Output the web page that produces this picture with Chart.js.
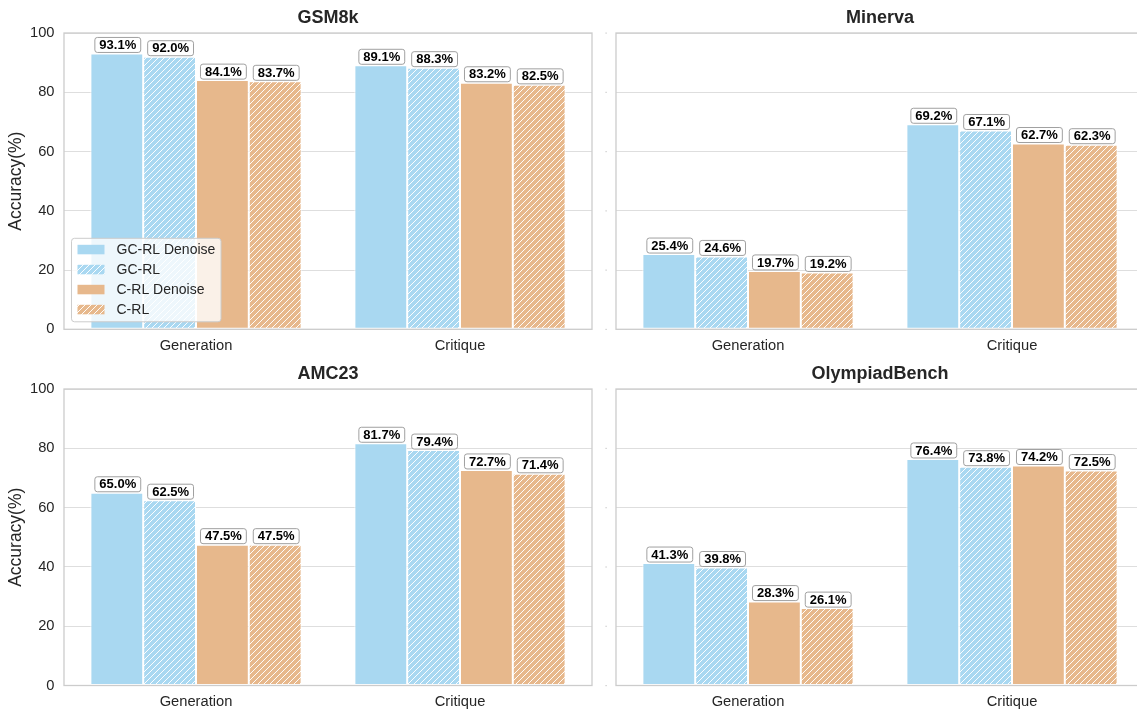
<!DOCTYPE html>
<html>
<head>
<meta charset="utf-8">
<script src="https://cdn.jsdelivr.net/npm/chart.js@4.4.1/dist/chart.umd.min.js"></script>
<style>
  html, body { margin: 0; padding: 0; background: #fff; overflow: hidden; width: 1137px; height: 713px; }
  canvas { position: absolute; }
</style>
</head>
<body>
<canvas id="c0" width="600" height="360" style="left:0;top:0"></canvas>
<canvas id="c1" width="545" height="360" style="left:600px;top:0"></canvas>
<canvas id="c2" width="600" height="353" style="left:0;top:360px"></canvas>
<canvas id="c3" width="545" height="353" style="left:600px;top:360px"></canvas>
<script>
// ---- data ----
const categories = ['Generation', 'Critique'];
const seriesNames = ['GC-RL Denoise', 'GC-RL', 'C-RL Denoise', 'C-RL'];
const panelTitles = ['GSM8k', 'Minerva', 'AMC23', 'OlympiadBench'];
const yTicks = [0, 20, 40, 60, 80, 100];

const gsm8kGcRlDenoise = [93.1, 89.1];
const gsm8kGcRl        = [92.0, 88.3];
const gsm8kCRlDenoise  = [84.1, 83.2];
const gsm8kCRl         = [83.7, 82.5];

const minervaGcRlDenoise = [25.4, 69.2];
const minervaGcRl        = [24.6, 67.1];
const minervaCRlDenoise  = [19.7, 62.7];
const minervaCRl         = [19.2, 62.3];

const amc23GcRlDenoise = [65.0, 81.7];
const amc23GcRl        = [62.5, 79.4];
const amc23CRlDenoise  = [47.5, 72.7];
const amc23CRl         = [47.5, 71.4];

const olympiadGcRlDenoise = [41.3, 76.4];
const olympiadGcRl        = [39.8, 73.8];
const olympiadCRlDenoise  = [28.3, 74.2];
const olympiadCRl         = [26.1, 72.5];

// ---- styling ----
const FONT = '"Liberation Sans", Arial, Helvetica, sans-serif';
const TEXT = '#262626';
const BLUE = '#A9D8F1';
const ORANGE = '#E7B88C';

function hatchPattern(color) {
  const s = 6;
  const c = document.createElement('canvas');
  c.width = s; c.height = s;
  const g = c.getContext('2d');
  g.fillStyle = color;
  g.fillRect(0, 0, s, s);
  g.strokeStyle = 'rgba(255,255,255,0.95)';
  g.lineWidth = 1.0;
  g.beginPath();
  g.moveTo(0, s); g.lineTo(s, 0);
  g.moveTo(-1, 1); g.lineTo(1, -1);
  g.moveTo(s - 1, s + 1); g.lineTo(s + 1, s - 1);
  g.stroke();
  return g.createPattern(c, 'repeat');
}

const fills = [BLUE, hatchPattern(BLUE), ORANGE, hatchPattern(ORANGE)];

function roundRect(ctx, x, y, w, h, r) {
  ctx.beginPath();
  ctx.moveTo(x + r, y);
  ctx.lineTo(x + w - r, y);
  ctx.arcTo(x + w, y, x + w, y + r, r);
  ctx.lineTo(x + w, y + h - r);
  ctx.arcTo(x + w, y + h, x + w - r, y + h, r);
  ctx.lineTo(x + r, y + h);
  ctx.arcTo(x, y + h, x, y + h - r, r);
  ctx.lineTo(x, y + r);
  ctx.arcTo(x, y, x + r, y, r);
  ctx.closePath();
}

// frame, title, y-axis title, tiny tick marks
const panelDecor = {
  id: 'panelDecor',
  beforeDraw(chart) {
    const ctx = chart.ctx;
    ctx.save();
    ctx.fillStyle = '#fff';
    ctx.fillRect(0, 0, chart.width, chart.height);
    ctx.restore();
  },
  afterDatasetsDraw(chart, args, opts) {
    const ctx = chart.ctx;
    const a = chart.chartArea;
    ctx.save();
    // frame
    ctx.strokeStyle = '#cccccc';
    ctx.lineWidth = 1.3;
    ctx.strokeRect(a.left, a.top, a.right - a.left, a.bottom - a.top);
    // title
    ctx.fillStyle = TEXT;
    ctx.font = 'bold 18px ' + FONT;
    ctx.textAlign = 'center';
    ctx.textBaseline = 'middle';
    ctx.fillText(opts.title, (a.left + a.right) / 2, a.top - 15);
    // y-axis title
    if (opts.yTitle) {
      ctx.save();
      ctx.translate(16.5, (a.top + a.bottom) / 2);
      ctx.rotate(-Math.PI / 2);
      ctx.font = '17.5px ' + FONT;
      ctx.fillText(opts.yTitle, 0, 0);
      ctx.restore();
    }
    // small tick marks where the labels are hidden
    if (opts.tickDots) {
      const ys = chart.scales.y;
      ctx.fillStyle = '#c8c8c8';
      yTicks.forEach(v => {
        const y = ys.getPixelForValue(v);
        ctx.fillRect(a.left - 10.5, y - 0.5, 1.2, 1.2);
      });
    }
    ctx.restore();
  }
};

// boxed value labels above bars
const valueBoxes = {
  id: 'valueBoxes',
  afterDatasetsDraw(chart) {
    const ctx = chart.ctx;
    ctx.save();
    ctx.font = 'bold 13px ' + FONT;
    ctx.textAlign = 'center';
    ctx.textBaseline = 'middle';
    chart.data.datasets.forEach((ds, i) => {
      chart.getDatasetMeta(i).data.forEach((bar, j) => {
        const txt = ds.data[j].toFixed(1) + '%';
        const w = ctx.measureText(txt).width + 9;
        const h = 15;
        const yb = bar.y - 1;
        roundRect(ctx, bar.x - w / 2 + 1, yb - h, w, h, 2.5);
        ctx.fillStyle = '#ffffff';
        ctx.fill();
        ctx.strokeStyle = '#a0a0a0';
        ctx.lineWidth = 1;
        ctx.stroke();
        ctx.fillStyle = '#000';
        ctx.fillText(txt, bar.x + 1, yb - h / 2 + 0.5);
      });
    });
    ctx.restore();
  }
};

// legend box inside the first panel
const innerLegend = {
  id: 'innerLegend',
  afterDraw(chart, args, opts) {
    if (!opts.show) return;
    const ctx = chart.ctx;
    const a = chart.chartArea;
    const bw = 149.5, bh = 83.5;
    const x0 = a.left + 7.5, y0 = a.bottom - 7.5 - bh;
    ctx.save();
    roundRect(ctx, x0, y0, bw, bh, 3);
    ctx.fillStyle = 'rgba(255,255,255,0.8)';
    ctx.fill();
    ctx.strokeStyle = '#cccccc';
    ctx.lineWidth = 1;
    ctx.stroke();
    ctx.font = '14px ' + FONT;
    ctx.textAlign = 'left';
    ctx.textBaseline = 'middle';
    chart.data.datasets.forEach((ds, i) => {
      const cy = y0 + 11 + i * 20;
      ctx.fillStyle = ds.backgroundColor;
      ctx.fillRect(x0 + 6, cy - 4.5, 27, 9.5);
      ctx.fillStyle = TEXT;
      ctx.fillText(ds.label, x0 + 45, cy + 0.5);
    });
    ctx.restore();
  }
};

function makePanel(id, title, series, opt) {
  const datasets = series.map((vals, i) => ({
    label: seriesNames[i],
    data: vals,
    backgroundColor: fills[i],
    borderColor: '#ffffff',
    borderWidth: 1,
    borderSkipped: false,
    barPercentage: 1.0,
    categoryPercentage: 0.8
  }));
  return new Chart(document.getElementById(id), {
    type: 'bar',
    data: { labels: categories, datasets },
    plugins: [panelDecor, valueBoxes, innerLegend],
    options: {
      responsive: false,
      animation: false,
      devicePixelRatio: 1,
      layout: { padding: { left: 0, top: opt.top, right: opt.right, bottom: 0 } },
      plugins: {
        legend: { display: false },
        tooltip: { enabled: false },
        title: { display: false },
        panelDecor: { title, yTitle: opt.yTitle, tickDots: opt.tickDots },
        innerLegend: { show: !!opt.legend }
      },
      scales: {
        x: {
          type: 'category',
          offset: true,
          grid: { display: false },
          border: { display: false },
          ticks: { color: TEXT, font: { family: FONT, size: 14.7 }, padding: 0, maxRotation: 0 },
          afterFit(s) { s.height = opt.xh; }
        },
        y: {
          min: 0, max: 100,
          afterBuildTicks(s) { s.ticks = yTicks.map(v => ({ value: v })); },
          grid: { color: '#dedede', lineWidth: 1, drawTicks: false },
          border: { display: false },
          ticks: { display: !opt.tickDots, color: TEXT, font: { family: FONT, size: 14.7 }, padding: 9.5 },
          afterFit(s) { s.width = opt.yw; }
        }
      }
    }
  });
}

makePanel('c0', panelTitles[0], [gsm8kGcRlDenoise, gsm8kGcRl, gsm8kCRlDenoise, gsm8kCRl],
  { top: 33, right: 8, xh: 30.7, yw: 64, yTitle: 'Accuracy(%)', legend: true });
makePanel('c1', panelTitles[1], [minervaGcRlDenoise, minervaGcRl, minervaCRlDenoise, minervaCRl],
  { top: 33, right: 1, xh: 30.7, yw: 16, tickDots: true });
makePanel('c2', panelTitles[2], [amc23GcRlDenoise, amc23GcRl, amc23CRlDenoise, amc23CRl],
  { top: 29, right: 8, xh: 27.5, yw: 64, yTitle: 'Accuracy(%)' });
makePanel('c3', panelTitles[3], [olympiadGcRlDenoise, olympiadGcRl, olympiadCRlDenoise, olympiadCRl],
  { top: 29, right: 1, xh: 27.5, yw: 16, tickDots: true });
</script>
</body>
</html>
